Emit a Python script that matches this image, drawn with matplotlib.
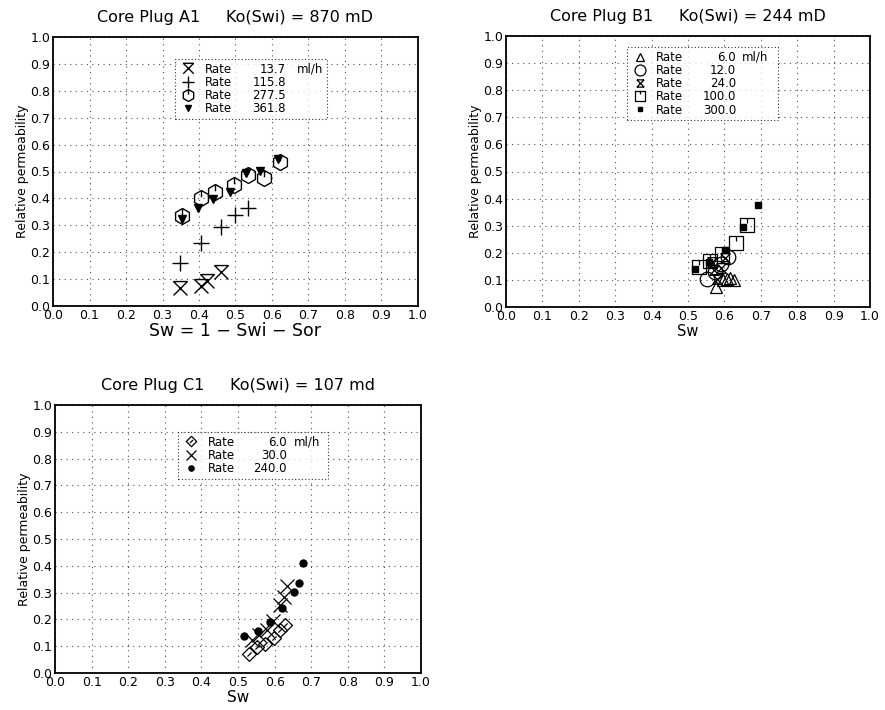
import matplotlib
matplotlib.use("Agg")
import matplotlib.pyplot as plt
from matplotlib.path import Path
import math

plt.rcParams['font.family'] = ['DejaVu Sans']

# ---------------- data ----------------
# Core plug A1
a1_rates = [13.7, 115.8, 277.5, 361.8]
a1_sw_137 = [0.347, 0.405, 0.422, 0.461]
a1_kr_137 = [0.066, 0.074, 0.093, 0.128]
a1_sw_1158 = [0.347, 0.405, 0.461, 0.498, 0.533]
a1_kr_1158 = [0.159, 0.233, 0.293, 0.338, 0.365]
a1_sw_2775 = [0.354, 0.405, 0.445, 0.496, 0.534, 0.577, 0.621]
a1_kr_2775 = [0.336, 0.403, 0.425, 0.450, 0.487, 0.475, 0.536]
a1_sw_3618 = [0.354, 0.397, 0.438, 0.484, 0.530, 0.566, 0.616]
a1_kr_3618 = [0.322, 0.363, 0.398, 0.425, 0.493, 0.503, 0.545]

# Core plug B1
b1_rates = [6.0, 12.0, 24.0, 100.0, 300.0]
b1_sw_6 = [0.578, 0.597, 0.607, 0.615, 0.625]
b1_kr_6 = [0.075, 0.098, 0.104, 0.107, 0.100]
b1_sw_12 = [0.552, 0.575, 0.590, 0.611]
b1_kr_12 = [0.105, 0.130, 0.160, 0.185]
b1_sw_24 = [0.565, 0.572, 0.580, 0.590, 0.602]
b1_kr_24 = [0.165, 0.135, 0.105, 0.145, 0.180]
b1_sw_100 = [0.529, 0.561, 0.593, 0.632, 0.661]
b1_kr_100 = [0.147, 0.170, 0.195, 0.238, 0.302]
b1_sw_300 = [0.520, 0.558, 0.602, 0.652, 0.693]
b1_kr_300 = [0.142, 0.165, 0.212, 0.295, 0.375]

# Core plug C1
c1_rates = [6.0, 30.0, 240.0]
c1_sw_6 = [0.529, 0.551, 0.574, 0.597, 0.615, 0.629]
c1_kr_6 = [0.072, 0.097, 0.110, 0.132, 0.160, 0.178]
c1_sw_30 = [0.538, 0.558, 0.578, 0.595, 0.615, 0.625, 0.634]
c1_kr_30 = [0.122, 0.140, 0.160, 0.195, 0.255, 0.285, 0.325]
c1_sw_240 = [0.517, 0.556, 0.588, 0.620, 0.652, 0.666, 0.677]
c1_kr_240 = [0.137, 0.157, 0.190, 0.244, 0.303, 0.334, 0.412]

ticks = [0.0, 0.1, 0.2, 0.3, 0.4, 0.5, 0.6, 0.7, 0.8, 0.9, 1.0]
tick_labels = ["0.0", "0.1", "0.2", "0.3", "0.4", "0.5", "0.6", "0.7", "0.8", "0.9", "1.0"]

titles = ["Core Plug A1     Ko(Swi) = 870 mD",
          "Core Plug B1     Ko(Swi) = 244 mD",
          "Core Plug C1     Ko(Swi) = 107 md"]
xlabels = ["Sw = 1 − Swi − Sor", "Sw", "Sw"]
ylabel = "Relative permeability"

# ---------------- custom markers ----------------
M, L = Path.MOVETO, Path.LINETO
hourglass_x = Path([(-1, 1), (1, 1), (-1, 1), (1, -1), (1, 1), (-1, -1)],
                   [M, L, M, L, M, L])
hourglass_bars = Path([(-1, 1), (1, 1), (-1, -1), (1, -1), (-1, 1), (1, -1), (1, 1), (-1, -1)],
                      [M, L, M, L, M, L, M, L])
hex_pts = [(math.cos(math.radians(90 + 60 * k)), math.sin(math.radians(90 + 60 * k))) for k in range(7)]
hex_tick = Path(hex_pts + [(0, 0.85), (0, 0.15)], [M] + [L] * 6 + [M, L])
square_tick = Path([(-1, -1), (1, -1), (1, 1), (-1, 1), (-1, -1), (0, 1), (0, 0.35)],
                   [M, L, L, L, L, M, L])
diamond_tick = Path([(0, 1), (1, 0), (0, -1), (-1, 0), (0, 1), (-0.3, -0.3), (0.3, 0.3)],
                    [M, L, L, L, L, M, L])

W, H = 885, 710
fig = plt.figure(figsize=(W / 100, H / 100), dpi=100)


def make_axes(px_left, px_right, px_top, px_bottom):
    return fig.add_axes([px_left / W, 1 - px_bottom / H,
                         (px_right - px_left) / W, (px_bottom - px_top) / H])


axA = make_axes(53, 418, 37, 306)
axB = make_axes(506, 870, 36, 307)
axC = make_axes(55, 421, 405, 673)

for ax, title, xl in zip([axA, axB, axC], titles, xlabels):
    ax.set_xlim(0, 1)
    ax.set_ylim(0, 1)
    ax.set_xticks(ticks)
    ax.set_yticks(ticks)
    ax.set_xticklabels(tick_labels, fontsize=9)
    ax.set_yticklabels(tick_labels, fontsize=9)
    ax.tick_params(direction='in', length=0, pad=2)
    ax.grid(True, color='0.3', linestyle=(0, (1, 4)), linewidth=0.8)
    ax.set_axisbelow(True)
    for s in ax.spines.values():
        s.set_linewidth(1.3)
    ax.set_title(title, fontsize=11.5, pad=11)
    ax.set_ylabel(ylabel, fontsize=9, labelpad=1)

axA.set_xlabel(xlabels[0], fontsize=12.5, labelpad=0)
axB.set_xlabel(xlabels[1], fontsize=10.5, labelpad=1)
axC.set_xlabel(xlabels[2], fontsize=11, labelpad=1)

ms_kw = dict(linestyle='none', color='black', markeredgecolor='black')

# A1
axA.plot(a1_sw_137, a1_kr_137, marker=hourglass_x, markersize=10, markerfacecolor='none', mew=1.0, label='Rate', **ms_kw)
axA.plot(a1_sw_1158, a1_kr_1158, marker='+', markersize=12, mew=1.0, label='Rate', **ms_kw)
axA.plot(a1_sw_2775, a1_kr_2775, marker=hex_tick, markersize=11.5, markerfacecolor='none', mew=1.0, label='Rate', **ms_kw)
axA.plot(a1_sw_3618, a1_kr_3618, marker='v', markersize=5.5, markerfacecolor='black', label='Rate', **ms_kw)

# B1
axB.plot(b1_sw_6, b1_kr_6, marker='^', markersize=8, markerfacecolor='none', mew=0.9, label='Rate', **ms_kw)
axB.plot(b1_sw_12, b1_kr_12, marker='o', markersize=10.5, markerfacecolor='none', mew=0.9, label='Rate', **ms_kw)
axB.plot(b1_sw_24, b1_kr_24, marker=hourglass_bars, markersize=7, markerfacecolor='none', mew=0.9, label='Rate', **ms_kw)
axB.plot(b1_sw_100, b1_kr_100, marker=square_tick, markersize=10, markerfacecolor='none', mew=0.9, label='Rate', **ms_kw)
axB.plot(b1_sw_300, b1_kr_300, marker='s', markersize=4, markerfacecolor='black', label='Rate', **ms_kw)

# C1
axC.plot(c1_sw_6, c1_kr_6, marker=diamond_tick, markersize=10, markerfacecolor='none', mew=0.9, label='Rate', **ms_kw)
axC.plot(c1_sw_30, c1_kr_30, marker='x', markersize=10, mew=0.9, label='Rate', **ms_kw)
axC.plot(c1_sw_240, c1_kr_240, marker='o', markersize=5, markerfacecolor='black', label='Rate', **ms_kw)

legend_specs = [
    (axA, a1_rates, (0.334, 0.60, 0.416, 0.318), 0.638, 0.668),
    (axB, b1_rates, (0.332, 0.60, 0.415, 0.359), 0.632, 0.648),
    (axC, c1_rates, (0.336, 0.60, 0.410, 0.299), 0.634, 0.654),
]
legends = []
for ax, rates, bb, xnum, xunit in legend_specs:
    leg = ax.legend(loc='upper left', bbox_to_anchor=bb, mode='expand', fontsize=8.5,
                    frameon=True, fancybox=False, edgecolor='black', borderaxespad=0,
                    handlelength=1.6, handletextpad=0.6, borderpad=0.3, labelspacing=0.02,
                    markerscale=0.75)
    leg.get_frame().set_linestyle((0, (1, 2)))
    leg.get_frame().set_linewidth(0.8)
    legends.append((ax, leg, rates, xnum, xunit))

fig.canvas.draw()
renderer = fig.canvas.get_renderer()
for ax, leg, rates, xnum, xunit in legends:
    inv = ax.transAxes.inverted()
    for i, (t, r) in enumerate(zip(leg.get_texts(), rates)):
        bbx = t.get_window_extent(renderer)
        yax = inv.transform((0, (bbx.y0 + bbx.y1) / 2))[1]
        ax.text(xnum, yax, f"{r:.1f}", transform=ax.transAxes, ha='right', va='center',
                fontsize=8.5, zorder=10)
        if i == 0:
            ax.text(xunit, yax, "ml/h", transform=ax.transAxes, ha='left', va='center',
                    fontsize=8.5, zorder=10)

fig.savefig("out.png", dpi=100)
